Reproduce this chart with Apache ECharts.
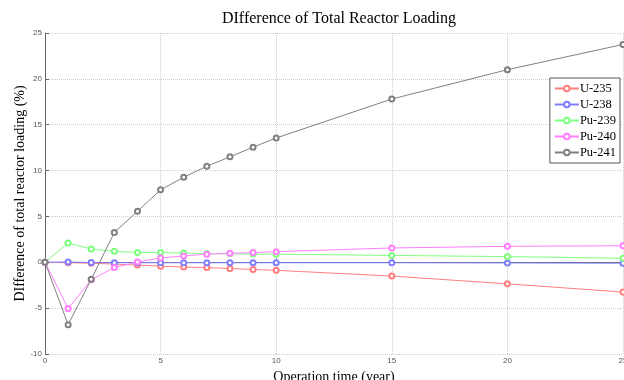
<!DOCTYPE html>
<html>
<head>
<meta charset="utf-8">
<script src="https://cdn.jsdelivr.net/npm/echarts@6/dist/echarts.min.js"></script>
<style>
  html, body { margin: 0; padding: 0; background: #fff; }
  #chart { width: 624px; height: 380px; }
</style>
</head>
<body>
<div id="chart"></div>
<script>
// operation time (year)
const years = [0, 1, 2, 3, 4, 5, 6, 7, 8, 9, 10, 15, 20, 25];

const u235  = [0, -0.05, -0.1, -0.2, -0.3, -0.42, -0.52, -0.58, -0.68, -0.78, -0.88, -1.5, -2.35, -3.25];
const u238  = [0, 0.03, -0.03, -0.05, -0.05, -0.05, -0.05, -0.05, -0.05, -0.05, -0.05, -0.05, -0.07, -0.1];
const pu239 = [0, 2.1, 1.45, 1.2, 1.07, 1.06, 1.0, 0.95, 0.92, 0.9, 0.88, 0.75, 0.62, 0.44];
const pu240 = [0, -5.05, -1.9, -0.58, 0.03, 0.47, 0.69, 0.88, 0.98, 1.06, 1.16, 1.56, 1.74, 1.8];
const pu241 = [0, -6.8, -1.85, 3.25, 5.56, 7.9, 9.27, 10.47, 11.5, 12.55, 13.55, 17.8, 21.0, 23.75];

const names  = ['U-235', 'U-238', 'Pu-239', 'Pu-240', 'Pu-241'];
const colors = ['#ff7f7f', '#7f7fff', '#7fff7f', '#ff7fff', '#808080'];
const data   = [u235, u238, pu239, pu240, pu241];

const chart = echarts.init(document.getElementById('chart'));

const series = names.map((n, i) => ({
  name: n,
  type: 'line',
  data: years.map((x, j) => [x, data[i][j]]),
  symbol: 'emptyCircle',
  symbolSize: 5,
  lineStyle: { width: 1, color: colors[i] },
  itemStyle: { color: colors[i], borderColor: colors[i], borderWidth: 1 },
  z: i + 2
}));

chart.setOption({
  animation: false,
  title: {
    text: 'DIfference of Total Reactor Loading',
    left: 334,
    top: 6,
    textAlign: 'center',
    textStyle: { fontFamily: 'Liberation Serif', fontSize: 16, fontWeight: 'normal', color: '#000' }
  },
  legend: {
    orient: 'vertical',
    right: 4,
    top: 78,
    backgroundColor: '#fff',
    borderColor: '#555',
    borderWidth: 1,
    borderRadius: 0,
    padding: [4, 4, 4, 4],
    itemGap: 3,
    itemWidth: 24,
    itemHeight: 7,
    textStyle: { fontFamily: 'Liberation Serif', fontSize: 12.5, color: '#000', padding: [0, 0, 0, -4] }
  },
  grid: { left: 45, right: 1, top: 33, bottom: 26, outerBoundsMode: 'none' },
  xAxis: {
    type: 'value',
    min: 0,
    max: 25,
    interval: 5,
    name: 'Operation time (year)',
    nameLocation: 'middle',
    nameGap: 16,
    nameMoveOverlap: false,
    nameTextStyle: { fontFamily: 'Liberation Serif', fontSize: 14, color: '#000' },
    axisLine: { lineStyle: { color: '#666' } },
    axisTick: { inside: true, length: 4, lineStyle: { color: '#666' } },
    axisLabel: { fontSize: 8, color: '#555', margin: 3 },
    splitLine: { show: true, lineStyle: { color: '#ccc', type: 'dotted' } }
  },
  yAxis: {
    type: 'value',
    min: -10,
    max: 25,
    interval: 5,
    name: 'DIfference of total reactor loading (%)',
    nameLocation: 'middle',
    nameGap: 18,
    nameMoveOverlap: false,
    nameTextStyle: { fontFamily: 'Liberation Serif', fontSize: 14, color: '#000' },
    axisLine: { show: true, lineStyle: { color: '#666' } },
    axisTick: { show: true, inside: true, length: 4, lineStyle: { color: '#666' } },
    axisLabel: { fontSize: 8, color: '#555', margin: 3 },
    splitLine: { show: true, lineStyle: { color: '#ccc', type: 'dotted' } }
  },
  series: series
});
</script>
</body>
</html>
